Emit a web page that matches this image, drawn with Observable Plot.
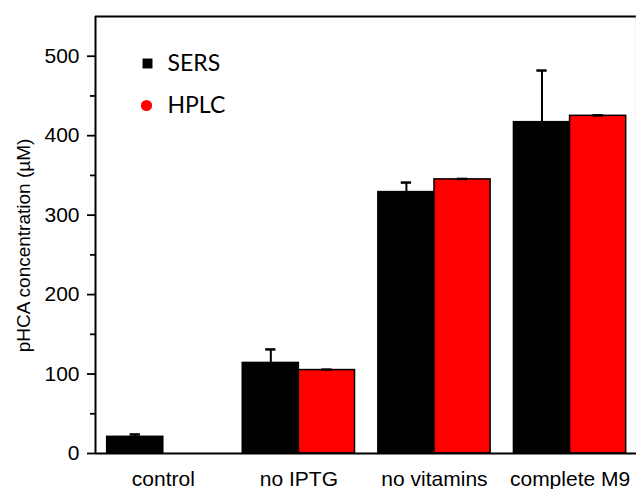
<!DOCTYPE html>
<html><head><meta charset="utf-8">
<script src="https://cdn.jsdelivr.net/npm/d3@7"></script>
<script src="https://cdn.jsdelivr.net/npm/@observablehq/plot@0.6"></script>
<style>
html,body{margin:0;padding:0;background:#fff;overflow:hidden;}
#chart{width:636px;height:489px;}
</style></head><body><div id="chart"></div>
<script>
const categories = ["control", "no IPTG", "no vitamins", "complete M9"];
const series = ["SERS", "HPLC"];
const sersValues = [21, 114, 329, 417];
const sersErrors = [3, 17, 12, 65];
const hplcValues = [0, 105, 345, 425];
const hplcErrors = [0, 0.6, 0.6, 0.6];
const majorTicks = [0, 100, 200, 300, 400, 500];
const minorTicks = [50, 150, 250, 350, 450];
const yMax = 550;

const seriesColors = ["#000000", "#ff0000"];
const xDomain = [-0.5, 3.49];
const half = 0.414;   // half group width (in category units)
const capHalf = 0.038;

const rows = [];
categories.forEach((c, i) => {
  rows.push({i, category: c, series: "SERS", value: sersValues[i], err: sersErrors[i], x1: i - half, x2: i});
  rows.push({i, category: c, series: "HPLC", value: hplcValues[i], err: hplcErrors[i], x1: i, x2: i + half});
});
const errRows = rows.filter(d => d.err > 0);

const font = "'Liberation Sans', Arial, sans-serif";
const legendFont = "Lato, 'Liberation Sans', sans-serif";

const plot = Plot.plot({
  width: 636, height: 489,
  marginLeft: 95, marginRight: 0, marginTop: 16, marginBottom: 36,
  style: {fontFamily: font, fontSize: "21px", color: "#000", background: "#fff", overflow: "visible"},
  x: {domain: xDomain, axis: null},
  y: {domain: [0, yMax], axis: null},
  color: {domain: series, range: seriesColors},
  marks: [
    Plot.rectY(rows, {x1: "x1", x2: "x2", y1: 0, y2: "value", fill: "series", stroke: "#000", strokeWidth: 1.5}),
    Plot.ruleX(errRows, {x: d => (d.x1 + d.x2) / 2, y1: "value", y2: d => d.value + d.err, stroke: "#000", strokeWidth: 2}),
    Plot.ruleY(errRows, {y: d => d.value + d.err, x1: d => (d.x1 + d.x2) / 2 - capHalf, x2: d => (d.x1 + d.x2) / 2 + capHalf, stroke: "#000", strokeWidth: 2.5}),
    // frame lines
    Plot.ruleY([0], {stroke: "#000", strokeWidth: 2}),
    Plot.ruleY([yMax], {stroke: "#000", strokeWidth: 2}),
    Plot.ruleX([xDomain[0]], {stroke: "#000", strokeWidth: 2}),
    Plot.ruleX([xDomain[1]], {stroke: "#d4d4d4", strokeWidth: 1.5}),
    // y axis
    Plot.axisY({ticks: majorTicks, tickSize: 8, tickPadding: 8, strokeWidth: 1.8, fontSize: 21, tickFormat: d3.format("d"), label: null}),
    Plot.axisY({ticks: minorTicks, tickSize: 5, strokeWidth: 1.8, tickFormat: () => "", label: null}),
    Plot.text(["pHCA concentration (µM)"], {frameAnchor: "left", textAnchor: "middle", lineAnchor: "middle", rotate: -90, dx: -72, dy: 10.5, fontSize: 19, fontFamily: font, fill: "#000"}),
    // x axis labels
    Plot.axisX({ticks: [0, 1, 2, 3], tickFormat: i => categories[i], tickSize: 0, tickPadding: 18, fontSize: 21, label: null}),
    // legend
    Plot.dot([series[0]], {frameAnchor: "top-left", dx: 52, dy: 47, symbol: "square", r: 5.6, fill: seriesColors[0]}),
    Plot.dot([series[1]], {frameAnchor: "top-left", dx: 51, dy: 89, symbol: "circle", r: 5.6, fill: seriesColors[1]}),
    Plot.text([series[0]], {frameAnchor: "top-left", dx: 72, dy: 47, text: d => d, textAnchor: "start", lineAnchor: "middle", fontSize: 23, fontFamily: legendFont, fill: "#000"}),
    Plot.text([series[1]], {frameAnchor: "top-left", dx: 72, dy: 89, text: d => d, textAnchor: "start", lineAnchor: "middle", fontSize: 23, fontFamily: legendFont, fill: "#000"})
  ]
});
document.getElementById("chart").appendChild(plot);
</script>
</body></html>
